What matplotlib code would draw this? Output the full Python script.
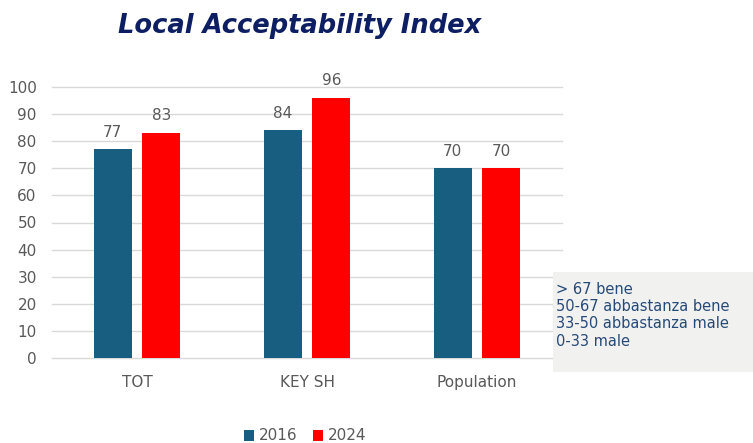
import matplotlib.pyplot as plt
import numpy as np

categories = ['TOT', 'KEY SH', 'Population']
values_2016 = [77, 84, 70]
values_2024 = [83, 96, 70]
legend_labels = ['2016', '2024']
scale_lines = ['> 67 bene', '50-67 abbastanza bene', '33-50 abbastanza male', '0-33 male']

fig = plt.figure(figsize=(7.53, 4.43), dpi=100)
ax = fig.add_axes([52 / 753, (443 - 358) / 443, 510 / 753, 271 / 443])

x = np.arange(len(categories))
w = 0.223
off = 0.143
b1 = ax.bar(x - off, values_2016, w, color='#185e80', label=legend_labels[0], zorder=3)
b2 = ax.bar(x + off, values_2024, w, color='#ff0000', label=legend_labels[1], zorder=3)
for bars in (b1, b2):
    ax.bar_label(bars, padding=7, fontsize=11, color='#595959')

ax.set_xlim(-0.5, 2.5)
ax.set_ylim(0, 100)
ax.set_yticks(range(0, 101, 10))
ax.set_xticks(x)
ax.set_xticklabels(categories)
ax.tick_params(axis='both', length=0, labelsize=11, labelcolor='#595959')
ax.tick_params(axis='y', pad=11)
ax.tick_params(axis='x', pad=12)
ax.grid(axis='y', color='#d9d9d9', lw=1, zorder=0)
for line in ax.get_ygridlines():
    line.set_clip_on(False)
for s in ax.spines.values():
    s.set_visible(False)

fig.text(300 / 753, 1 - 26 / 443, 'Local Acceptability Index', ha='center', va='center',
         fontsize=18.5, fontweight='bold', style='italic', color='#0d1f62')

fig.legend(loc='center', bbox_to_anchor=(305 / 753, 1 - 436 / 443), ncol=2, frameon=False,
           fontsize=11, handlelength=0.7, handleheight=0.7, handletextpad=0.3, columnspacing=1.0,
           labelcolor='#595959')

box = fig.add_axes([553 / 753, (443 - 372) / 443, 200 / 753, 100 / 443])
box.set_facecolor('#f1f1f0')
box.set_xticks([])
box.set_yticks([])
for s in box.spines.values():
    s.set_visible(False)
for i, line in enumerate(scale_lines):
    box.text(0.015, 0.83 - i * 0.175, line, transform=box.transAxes, ha='left', va='center',
             fontsize=10.5, color='#264a78')

fig.savefig('out.png', dpi=100)
